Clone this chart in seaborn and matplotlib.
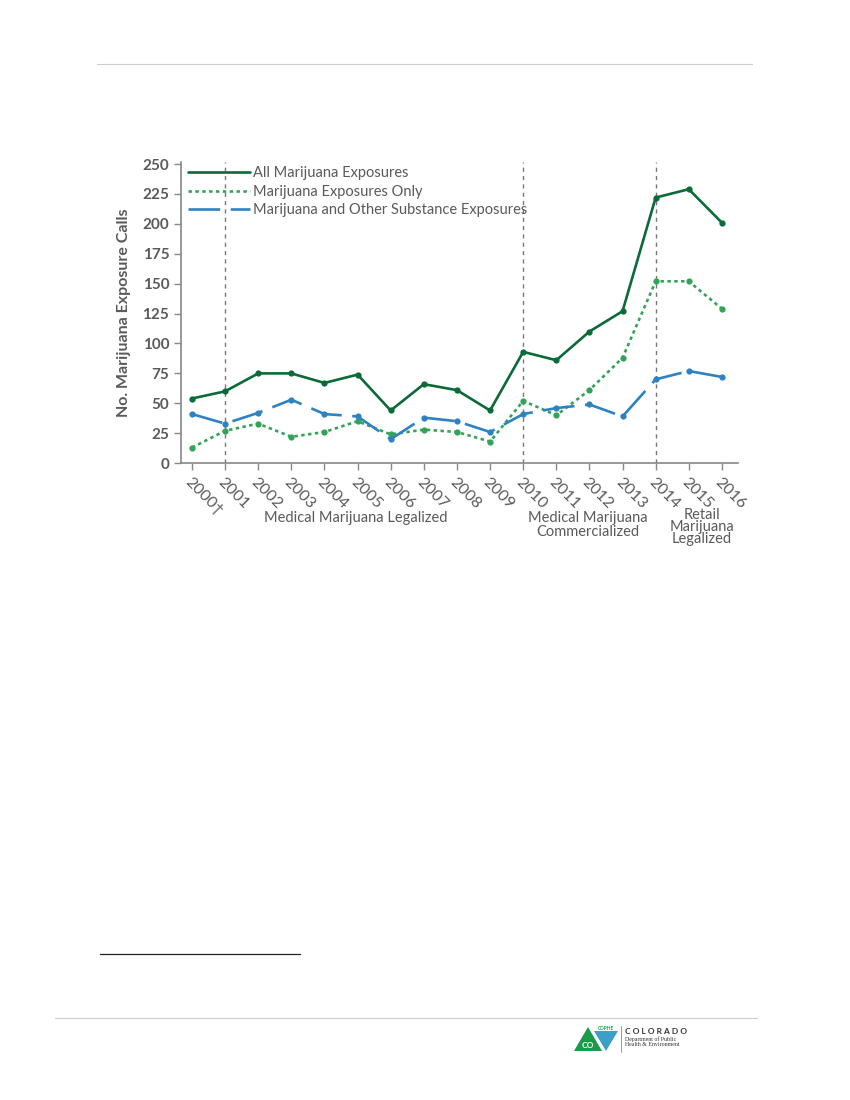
import numpy as np
import pandas as pd
import matplotlib.pyplot as plt
import seaborn as sns
from matplotlib.patches import Polygon

# Data
years = ['2000†', '2001', '2002', '2003', '2004', '2005', '2006', '2007', '2008',
         '2009', '2010', '2011', '2012', '2013', '2014', '2015', '2016']
all_exposures = [54, 60, 75, 75, 67, 74, 44, 66, 61, 44, 93, 86, 110, 127, 222, 229, 201]
only_exposures = [13, 27, 33, 22, 26, 35, 24, 28, 26, 18, 52, 40, 61, 88, 152, 152, 129]
other_exposures = [41, 33, 42, 53, 41, 39, 20, 38, 35, 26, 41, 46, 49, 39, 70, 77, 72]
event_years = ['2001', '2010', '2014']

series_names = ['All Marijuana Exposures', 'Marijuana Exposures Only',
                'Marijuana and Other Substance Exposures']

pos = np.arange(len(years))
df = pd.DataFrame({
    'pos': np.tile(pos, 3),
    'calls': all_exposures + only_exposures + other_exposures,
    'series': np.repeat(series_names, len(years)),
})

sns.set_style('white')
plt.rcParams['font.family'] = ['Lato', 'DejaVu Sans']

gray = '#5a5a5a'
colors = {series_names[0]: '#0a6b38', series_names[1]: '#33a457', series_names[2]: '#2f82c1'}
dashes = {series_names[0]: '', series_names[1]: (1.3, 1.3), series_names[2]: (12, 4)}

fig = plt.figure(figsize=(8.5, 11), dpi=100)
ax = fig.add_axes([0.213, 0.579, 0.655, 0.274])

sns.lineplot(data=df, x='pos', y='calls', hue='series', style='series',
             palette=colors, dashes=dashes, markers={s: 'o' for s in series_names},
             markersize=4.5, markeredgewidth=0, linewidth=1.9, ax=ax)

for y in event_years:
    ax.axvline(years.index(y), color='#777777', linestyle=(0, (3, 3)), linewidth=1, zorder=0)

ax.set_xlim(-0.33, 16.48)
ax.set_ylim(0, 252)
ax.set_yticks(np.arange(0, 251, 25))
ax.set_xticks(pos)
ax.set_xticklabels(years, rotation=-45, ha='left', va='top', rotation_mode='anchor')
ax.tick_params(axis='both', direction='out', length=5, width=1, color='#888888',
               labelsize=11, labelcolor=gray, bottom=True, left=True)
for lab in ax.get_yticklabels():
    lab.set_fontweight('bold')
ax.tick_params(axis='x', pad=4)
for lab in ax.get_xticklabels():
    lab.set_fontsize(11.5)
ax.set_xlabel('')
ax.set_ylabel('No. Marijuana Exposure Calls', fontsize=11.5, fontweight='bold', color=gray, labelpad=8)
sns.despine(ax=ax)
for s in ['left', 'bottom']:
    ax.spines[s].set_color('#888888')
    ax.spines[s].set_linewidth(1.2)

leg = ax.legend(loc='upper left', frameon=False, fontsize=10.5, handlelength=4.2,
                handletextpad=0.25, labelspacing=0.32, borderaxespad=0.1,
                bbox_to_anchor=(0.0, 1.01))
for t in leg.get_texts():
    t.set_color(gray)
for h in leg.get_lines():
    h.set_marker('')

# event annotations below the axis
fig.text(356 / 850, 1 - 518 / 1100, 'Medical Marijuana Legalized', ha='center', va='center',
         fontsize=10.5, color=gray)
fig.text(588 / 850, 1 - 525 / 1100, 'Medical Marijuana\nCommercialized', ha='center', va='center',
         fontsize=10.5, color=gray, linespacing=0.95)
fig.text(702 / 850, 1 - 527 / 1100, 'Retail\nMarijuana\nLegalized', ha='center', va='center',
         fontsize=10.5, color=gray, linespacing=0.85)

# page decoration
fig.add_artist(plt.Line2D([97 / 850, 752 / 850], [1 - 64 / 1100] * 2, color='#cccccc', lw=0.8))
fig.add_artist(plt.Line2D([100 / 850, 300 / 850], [1 - 954 / 1100] * 2, color='#222222', lw=0.9))
fig.add_artist(plt.Line2D([55 / 850, 757 / 850], [1 - 1018 / 1100] * 2, color='#cccccc', lw=0.8))

# logo
def fx(x):
    return x / 850

def fy(y):
    return 1 - y / 1100

fig.add_artist(Polygon([[fx(574), fy(1051)], [fx(588), fy(1027)], [fx(602), fy(1051)]],
                       closed=True, facecolor='#1a9a4a', edgecolor='none', transform=fig.transFigure))
fig.text(fx(588), fy(1045), 'CO', ha='center', va='center', fontsize=6, color='white', fontweight='bold')
fig.add_artist(Polygon([[fx(594), fy(1031)], [fx(618), fy(1031)], [fx(606), fy(1051)]],
                       closed=True, facecolor='#3aa0c8', edgecolor='none', transform=fig.transFigure))
fig.text(fx(606), fy(1029), 'CDPHE', ha='center', va='center', fontsize=3.5, color='#1a9a4a',
         fontweight='bold')
fig.add_artist(plt.Line2D([fx(621), fx(621)], [fy(1026), fy(1052)], color='#888888', lw=0.6))
fig.text(fx(625), fy(1031), 'C O L O R A D O', ha='left', va='center', fontsize=6, color='#333333',
         fontweight='bold')
fig.text(fx(625), fy(1042), 'Department of Public\nHealth & Environment', ha='left', va='center',
         fontsize=4.2, color='#333333', family='Liberation Serif', linespacing=1.0)

fig.savefig('out.png', dpi=100)
